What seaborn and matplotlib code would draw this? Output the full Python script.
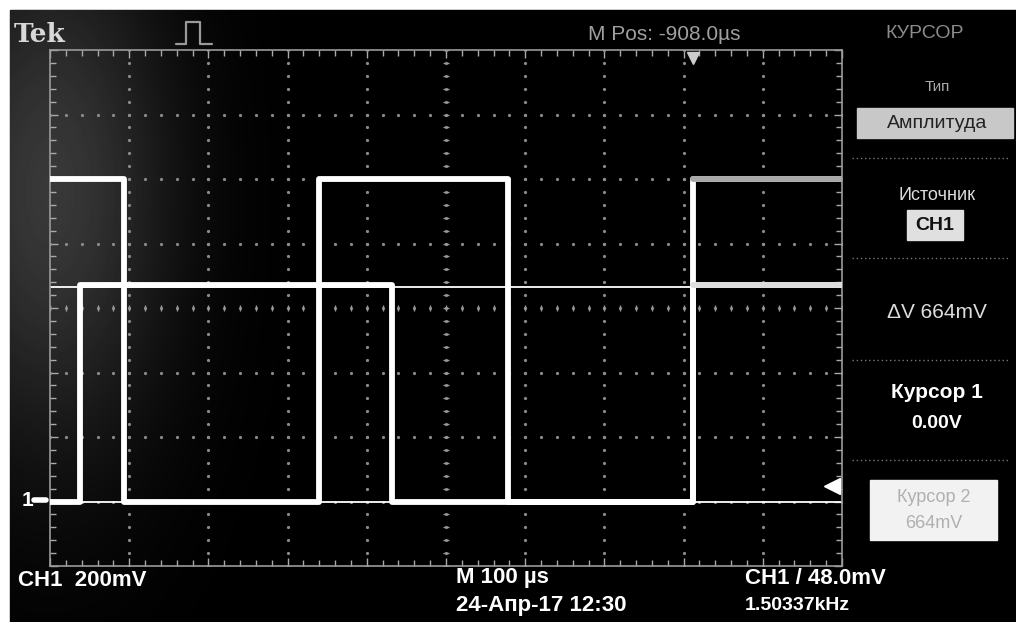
import numpy as np
import pandas as pd
import matplotlib
matplotlib.use("Agg")
import matplotlib.pyplot as plt
import seaborn as sns
from matplotlib.patches import Rectangle
from matplotlib.lines import Line2D

# screen data: time in us (100 us/div), level in mV (200 mV/div)
a_t = [0, 93, 340, 578, 812, 1000]
a_v = [1000, 0, 1000, 0, 1000, 1000]
b_t = [0, 38, 432, 812, 1000]
b_v = [0, 670, 0, 670, 670]
cursor_levels = [0, 664]
trig_level = 48

x_div = np.arange(0, 1001, 100)
y_div = np.arange(-200, 1401, 200)

sns.set_theme(style="dark")
plt.rcParams['font.family'] = ['Liberation Sans', 'DejaVu Sans']

W, H = 1016, 622
fig = plt.figure(figsize=(W / 100, H / 100), dpi=100, facecolor="white")

# black screen with white photo margin on top/left
fig.patches.append(Rectangle((10 / W, 0), 1, 1 - 10 / H, transform=fig.transFigure,
                             color="black", zorder=0))

# faint glare in the upper left of the photo
bg = fig.add_axes([10 / W, 0, 1 - 10 / W, 1 - 10 / H], zorder=0.5)
yy, xx = np.mgrid[0:612, 0:1006]
glare = np.exp(-(((xx - 40) / 120.0) ** 2 + ((yy - 180) / 260.0) ** 2)) * 0.22
bg.imshow(glare, cmap="gray", vmin=0, vmax=1, aspect="auto", alpha=1.0)
bg.axis("off")

ax = fig.add_axes([50 / W, 56 / H, 792 / W, 516 / H], zorder=1)
ax.set_facecolor("none")
ax.set_xlim(0, 1000)
ax.set_ylim(-200, 1400)

# graticule dots (1/5 division pitch)
fine_x = np.arange(0, 1001, 20)
fine_y = np.arange(-200, 1401, 40)
for xv in x_div[1:-1]:
    ax.plot(np.full(len(fine_y), xv), fine_y, ls="none", marker="o", ms=1.3,
            color="#8a8a8a", zorder=1)
for yv in y_div[1:-1]:
    ax.plot(fine_x, np.full(len(fine_x), yv), ls="none", marker="o", ms=1.3,
            color="#8a8a8a", zorder=1)
# centre cross ticks
ax.plot(fine_x, np.full(len(fine_x), 600), ls="none", marker="|", ms=5,
        color="#999999", zorder=1)
ax.plot(np.full(len(fine_y), 500), fine_y, ls="none", marker="_", ms=5,
        color="#999999", zorder=1)

ax.set_xticks(x_div)
ax.set_yticks(y_div)
ax.set_xticks(fine_x, minor=True)
ax.set_yticks(fine_y, minor=True)
ax.tick_params(which="both", direction="in", color="#aaaaaa", top=True, right=True,
               bottom=True, left=True, labelbottom=False, labelleft=False)
ax.tick_params(which="major", length=6, width=1)
ax.tick_params(which="minor", length=4, width=1)
ax.grid(False)
for sp in ax.spines.values():
    sp.set_color("#9a9a9a")
    sp.set_linewidth(1.2)

# cursors
for lv in cursor_levels:
    ax.axhline(lv, color="white", lw=1.3, zorder=2)

# traces
sns.lineplot(x=a_t, y=a_v, drawstyle="steps-post", color="white", lw=4.2,
             legend=False, ax=ax, zorder=3)
sns.lineplot(x=b_t, y=b_v, drawstyle="steps-post", color="white", lw=4.2,
             legend=False, ax=ax, zorder=3)
ax.plot(a_t[-2:], a_v[-2:], color="#a8a8a8", lw=4.2, zorder=4)
ax.plot(b_t[-2:], b_v[-2:], color="#dddddd", lw=4.2, zorder=4)

# trigger level / position markers
ax.plot([987], [trig_level], marker="<", ms=11, color="white", clip_on=False, zorder=5)
ax.plot([812], [1375], marker="v", ms=8, color="#cccccc", clip_on=False, zorder=5)
ax.set_xlabel("")
ax.set_ylabel("")


def ft(x, y, s, **kw):
    kw.setdefault("color", "white")
    kw.setdefault("va", "center")
    fig.text(x / W, 1 - y / H, s, zorder=6, **kw)


# ground marker
ft(22, 500, "1", fontsize=15, fontweight="bold")
fig.lines.append(Line2D([34 / W, 46 / W], [1 - 500 / H] * 2, transform=fig.transFigure,
                        color="white", lw=4, zorder=6))

# top status line
ft(14, 34, "Tek", fontsize=19, fontweight="bold", color="#d8d8d8", family="DejaVu Serif")
fig.lines.append(Line2D(np.array([176, 186, 186, 200, 200, 212]) / W,
                        1 - np.array([44, 44, 22, 22, 44, 44]) / H,
                        transform=fig.transFigure, color="#9a9a9a", lw=1.6, zorder=6))
ft(588, 34, "M Pos: -908.0µs", fontsize=15, color="#a0a0a0")
ft(885, 34, "КУРСОР", fontsize=14, color="#8c8c8c")

# side menu
cx = 937
ft(cx, 87, "Тип", fontsize=11, ha="center", color="#aaaaaa")
fig.patches.append(Rectangle((857 / W, 1 - 138 / H), 156 / W, 30 / H,
                             transform=fig.transFigure, color="#c8c8c8", zorder=5))
ft(cx, 123, "Амплитуда", fontsize=14, ha="center", color="#222222")
ft(cx, 195, "Источник", fontsize=13, ha="center", color="#dddddd")
fig.patches.append(Rectangle((907 / W, 1 - 240 / H), 56 / W, 30 / H,
                             transform=fig.transFigure, color="#e0e0e0", zorder=5))
ft(cx - 2, 225, "CH1", fontsize=14, ha="center", color="#111111", fontweight="bold")
ft(cx, 312, "ΔV 664mV", fontsize=15, ha="center", color="#dddddd")
ft(cx, 393, "Курсор 1", fontsize=15, ha="center", fontweight="bold")
ft(cx, 423, "0.00V", fontsize=14, ha="center", fontweight="bold")
fig.patches.append(Rectangle((870 / W, 1 - 540 / H), 127 / W, 60 / H,
                             transform=fig.transFigure, color="#f2f2f2", zorder=5))
ft(cx - 3, 497, "Курсор 2", fontsize=13, ha="center", color="#b0b0b0")
ft(cx - 3, 523, "664mV", fontsize=13, ha="center", color="#b0b0b0")
for ys in [158, 258, 360, 460]:
    fig.lines.append(Line2D([852 / W, 1008 / W], [1 - ys / H] * 2, transform=fig.transFigure,
                            color="#777777", lw=1, ls=(0, (1, 2)), zorder=6))

# bottom readouts
ft(18, 580, "CH1  200mV", fontsize=16, fontweight="bold")
ft(456, 578, "M 100 µs", fontsize=16, fontweight="bold")
ft(456, 606, "24-Апр-17 12:30", fontsize=16, fontweight="bold")
ft(745, 578, "CH1 / 48.0mV", fontsize=16, fontweight="bold")
ft(745, 606, "1.50337kHz", fontsize=14, fontweight="bold")

fig.savefig("out.png", dpi=100, facecolor=fig.get_facecolor())
